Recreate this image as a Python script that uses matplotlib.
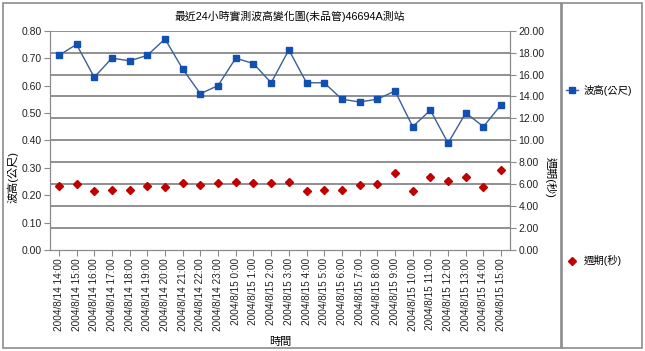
import matplotlib
matplotlib.use("Agg")
import matplotlib.pyplot as plt
from matplotlib.patches import Rectangle
from matplotlib.lines import Line2D

plt.rcParams['font.family'] = ['Liberation Sans', 'Noto Sans CJK TC', 'DejaVu Sans']

times = ["2004/8/14 14:00", "2004/8/14 15:00", "2004/8/14 16:00", "2004/8/14 17:00",
         "2004/8/14 18:00", "2004/8/14 19:00", "2004/8/14 20:00", "2004/8/14 21:00",
         "2004/8/14 22:00", "2004/8/14 23:00", "2004/8/15 0:00", "2004/8/15 1:00",
         "2004/8/15 2:00", "2004/8/15 3:00", "2004/8/15 4:00", "2004/8/15 5:00",
         "2004/8/15 6:00", "2004/8/15 7:00", "2004/8/15 8:00", "2004/8/15 9:00",
         "2004/8/15 10:00", "2004/8/15 11:00", "2004/8/15 12:00", "2004/8/15 13:00",
         "2004/8/15 14:00", "2004/8/15 15:00"]
wave_height = [0.71, 0.75, 0.63, 0.70, 0.69, 0.71, 0.77, 0.66, 0.57, 0.60,
               0.70, 0.68, 0.61, 0.73, 0.61, 0.61, 0.55, 0.54, 0.55, 0.58,
               0.45, 0.51, 0.39, 0.50, 0.45, 0.53]
period = [5.8, 6.0, 5.4, 5.5, 5.5, 5.8, 5.7, 6.1, 5.9, 6.1,
          6.2, 6.1, 6.1, 6.2, 5.4, 5.5, 5.5, 5.9, 6.0, 7.0,
          5.4, 6.7, 6.3, 6.7, 5.7, 7.3]
left_ticks = [0.0, 0.1, 0.2, 0.3, 0.4, 0.5, 0.6, 0.7, 0.8]
right_ticks = [0, 2, 4, 6, 8, 10, 12, 14, 16, 18, 20]

W, H = 645, 351
fig = plt.figure(figsize=(W / 100, H / 100), dpi=100)
fig.patch.set_facecolor('white')

# frames
fig.patches.append(Rectangle((3 / W, 3 / H), 558 / W, 345 / H, transform=fig.transFigure,
                             fill=False, edgecolor='#8c8c8c', linewidth=1.2))
fig.patches.append(Rectangle((562 / W, 3 / H), 80 / W, 345 / H, transform=fig.transFigure,
                             fill=False, edgecolor='#8c8c8c', linewidth=1.2))

ax = fig.add_axes([50 / W, (H - 250) / H, 460 / W, 219.3 / H])
ax2 = ax.twinx()

x = list(range(len(times)))
gray = '#8a8a8a'

ax.set_xlim(-0.5, len(times) - 0.5)
ax.set_ylim(0, 0.8)
ax2.set_ylim(0, 20)

for t in right_ticks[1:]:
    ax2.axhline(t, color='#909090', linewidth=1.4, zorder=0)

ax.set_zorder(ax2.get_zorder() + 1)
ax.patch.set_visible(False)

ax.plot(x, wave_height, color='#3b5f96', linewidth=1.0, marker='s', markersize=4.2,
        markerfacecolor='#1150b0', markeredgecolor='#1150b0', zorder=3)
ax.plot(x, [p / 25 for p in period], linestyle='none', marker='D', markersize=3.8,
        markerfacecolor='#c00000', markeredgecolor='#c00000', zorder=3)

ax.set_yticks(left_ticks)
ax.set_yticklabels([f"{v:.2f}" for v in left_ticks], fontsize=7.5)
ax2.set_yticks(right_ticks)
ax2.set_yticklabels([f"{v:.2f}" for v in right_ticks], fontsize=7.5)
ax.set_xticks(x)
ax.set_xticklabels(times, rotation=90, fontsize=7.2)

for a in (ax, ax2):
    for s in a.spines.values():
        s.set_color(gray)
    a.spines['top'].set_visible(False)
    a.tick_params(colors=gray, labelcolor='#222222', length=4, width=0.8, pad=2)

ax.set_ylabel('波高(公尺)', fontsize=8, va='center')
ax.yaxis.set_label_coords(-0.080, 0.333)
ax2.set_ylabel('週期(秒)', fontsize=8, rotation=-90, va='center')
ax2.yaxis.set_label_coords(1.087, 0.333)
ax.set_xlabel('時間', fontsize=8, labelpad=4)
fig.text(290 / W, 1 - 16 / H, '最近24小時實測波高變化圖(未品管)46694A測站', ha='center', va='center', fontsize=7.8)

# legend in right box
fig.add_artist(Line2D([566 / W, 578 / W], [1 - 90 / H, 1 - 90 / H], transform=fig.transFigure,
                      color='#3b5f96', linewidth=1.0))
fig.add_artist(Line2D([572 / W], [1 - 90 / H], transform=fig.transFigure, marker='s',
                      markersize=4.2, color='#1150b0', linestyle='none'))
fig.text(584 / W, 1 - 90 / H, '波高(公尺)', fontsize=7.5, va='center', ha='left')
fig.add_artist(Line2D([572 / W], [1 - 261 / H], transform=fig.transFigure, marker='D',
                      markersize=3.8, color='#c00000', linestyle='none'))
fig.text(584 / W, 1 - 261 / H, '週期(秒)', fontsize=7.5, va='center', ha='left')

fig.savefig('out.png', dpi=100)
